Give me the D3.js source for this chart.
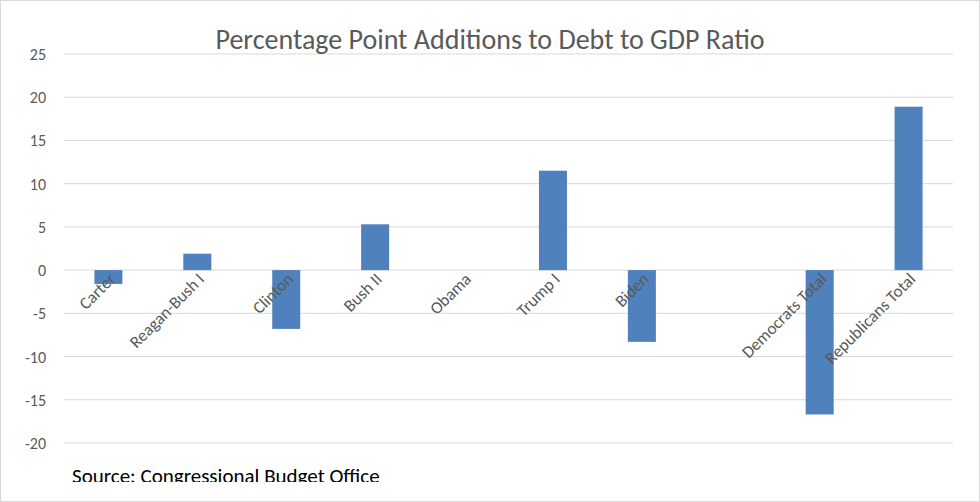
<!DOCTYPE html>
<html><head><meta charset="utf-8">
<script src="https://cdn.jsdelivr.net/npm/d3@7"></script>
<style>body{margin:0;background:#fff;font-family:Calibri,Carlito,"Open Sans","Liberation Sans",sans-serif;}</style>
</head><body>
<svg id="chart" width="980" height="502"></svg>
<script>
var categories = ['Carter', 'Reagan-Bush I', 'Clinton', 'Bush II', 'Obama', 'Trump I', 'Biden', '', 'Democrats Total', 'Republicans Total'];
var values = [-1.6, 1.9, -6.8, 5.3, 0, 11.5, -8.3, null, -16.7, 18.9];
var yTicks = [-20, -15, -10, -5, 0, 5, 10, 15, 20, 25];

var svg = d3.select('#chart');
svg.append('rect').attr('x', 0.5).attr('y', 0.5).attr('width', 979).attr('height', 501).attr('fill', '#fff').attr('stroke', '#d9d9d9');

var x = d3.scaleBand().domain(d3.range(categories.length)).range([64, 953]).paddingInner(0.685).paddingOuter(0.342);
var y = d3.scaleLinear().domain([-20, 25]).range([443, 54]);

svg.append('g').selectAll('line').data(yTicks).enter().append('line')
  .attr('x1', 64).attr('x2', 953).attr('y1', function(d) { return y(d); }).attr('y2', function(d) { return y(d); })
  .attr('stroke', '#d9d9d9').attr('stroke-width', 1);

svg.append('g').selectAll('text').data(yTicks).enter().append('text')
  .attr('x', 46).attr('y', function(d) { return y(d) + 6; }).attr('text-anchor', 'end')
  .attr('font-size', 16).attr('fill', '#595959').text(function(d) { return d; });

svg.append('g').selectAll('rect').data(values).enter().filter(function(d) { return d !== null; }).append('rect')
  .attr('x', function(d, i) { return x(values.indexOf(d)); })
  .attr('y', function(d) { return y(Math.max(0, d)); })
  .attr('width', x.bandwidth())
  .attr('height', function(d) { return Math.abs(y(d) - y(0)); })
  .attr('fill', '#4f81bd');

svg.append('g').selectAll('text').data(categories).enter().append('text')
  .attr('transform', function(d, i) { return 'translate(' + (x(i) + x.bandwidth() / 2 + 8) + ',' + (y(0) + 10) + ') rotate(-45)'; })
  .attr('text-anchor', 'end').attr('font-size', 17).attr('fill', '#595959').text(function(d) { return d; });

svg.append('text').attr('x', 490).attr('y', 49).attr('text-anchor', 'middle')
  .attr('font-size', 28).attr('fill', '#595959').text('Percentage Point Additions to Debt to GDP Ratio');

svg.append('clipPath').attr('id', 'clip').append('rect').attr('x', 0).attr('y', 0).attr('width', 980).attr('height', 482);
svg.append('text').attr('x', 72).attr('y', 483).attr('clip-path', 'url(#clip)').attr('font-size', 21).attr('fill', '#000').text('Source: Congressional Budget Office');
</script>
</body></html>
